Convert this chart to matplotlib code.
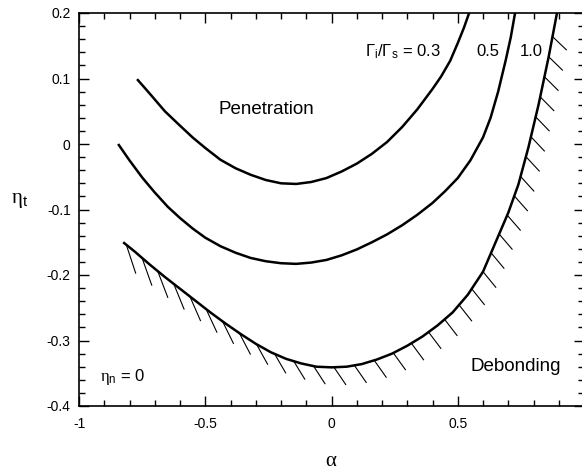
import numpy as np
import matplotlib
matplotlib.use('Agg')
import matplotlib.pyplot as plt
from matplotlib.ticker import MultipleLocator, FixedLocator

plt.rcParams['font.family'] = ['Liberation Sans', 'DejaVu Sans']
plt.rcParams['axes.unicode_minus'] = False
plt.rcParams['mathtext.fontset'] = 'custom'
plt.rcParams['mathtext.rm'] = 'Liberation Serif'
plt.rcParams['mathtext.sf'] = 'Liberation Sans'
plt.rcParams['mathtext.it'] = 'Liberation Sans:italic'

# curves: alpha vs eta_t, one per Gamma_i/Gamma_s
alpha_03 = [-0.770, -0.72, -0.66, -0.60, -0.55, -0.50, -0.44, -0.38, -0.32, -0.26, -0.20, -0.14,
            -0.08, -0.02, 0.04, 0.10, 0.16, 0.22, 0.28, 0.34, 0.40, 0.434, 0.47, 0.50, 0.525, 0.545]
eta_03 = [0.099, 0.077, 0.050, 0.028, 0.010, -0.006, -0.024, -0.037, -0.047, -0.055, -0.060, -0.061,
          -0.058, -0.052, -0.042, -0.030, -0.015, 0.003, 0.026, 0.053, 0.084, 0.103, 0.127, 0.154, 0.178, 0.200]

alpha_05 = [-0.845, -0.80, -0.75, -0.70, -0.648, -0.60, -0.55, -0.50, -0.44, -0.38, -0.32, -0.26, -0.20,
            -0.14, -0.08, -0.02, 0.04, 0.10, 0.16, 0.22, 0.28, 0.34, 0.40, 0.45, 0.50, 0.55, 0.60, 0.63,
            0.66, 0.69, 0.71, 0.727]
eta_05 = [0.000, -0.025, -0.051, -0.074, -0.096, -0.113, -0.129, -0.143, -0.156, -0.166, -0.174, -0.179, -0.182,
          -0.183, -0.181, -0.177, -0.170, -0.161, -0.150, -0.138, -0.124, -0.108, -0.090, -0.072, -0.052, -0.025,
          0.010, 0.040, 0.080, 0.128, 0.163, 0.200]

alpha_10 = [-0.825, -0.78, -0.72, -0.66, -0.60, -0.54, -0.48, -0.42, -0.36, -0.30, -0.24, -0.18, -0.12,
            -0.06, 0.00, 0.06, 0.12, 0.18, 0.24, 0.30, 0.36, 0.42, 0.48, 0.54, 0.60, 0.65, 0.70, 0.74, 0.78,
            0.82, 0.86, 0.893]
eta_10 = [-0.150, -0.164, -0.184, -0.203, -0.221, -0.239, -0.257, -0.274, -0.290, -0.305, -0.318, -0.328, -0.335,
          -0.340, -0.341, -0.340, -0.336, -0.329, -0.320, -0.308, -0.294, -0.277, -0.257, -0.230, -0.195, -0.150,
          -0.105, -0.062, -0.005, 0.060, 0.133, 0.200]

ratio_labels = ['$\\mathsf{\\Gamma_i/\\Gamma_s}$ = 0.3', '0.5', '1.0']
x_ticks = [-1, -0.5, 0, 0.5, 1]
x_ticklabels = ['-1', '-0.5', '0', '0.5', '']
y_ticks = [-0.4, -0.3, -0.2, -0.1, 0, 0.1, 0.2]
y_ticklabels = ['-0.4', '-0.3', '-0.2', '-0.1', '0', '0.1', '0.2']

fig = plt.figure(figsize=(5.82, 4.70), dpi=100)
ax = fig.add_axes([79 / 582, 64 / 470, 505 / 582, 393 / 470])

for a, e in [(alpha_03, eta_03), (alpha_05, eta_05), (alpha_10, eta_10)]:
    ax.plot(a, e, color='black', lw=1.8, solid_capstyle='butt')

ax.set_xlim(-1, 1)
ax.set_ylim(-0.4, 0.2)

# hatching under the 1.0 curve, spaced along the line in screen pixels
pts = ax.transData.transform(np.column_stack([alpha_10, eta_10]))
s = np.concatenate([[0], np.cumsum(np.hypot(*np.diff(pts, axis=0).T))])
inv = ax.transData.inverted()
for d in np.arange(4, s[-1] - 6, 20.5):
    x = np.interp(d, s, pts[:, 0])
    y = np.interp(d, s, pts[:, 1])
    f = d / s[-1]
    ang = np.radians(np.interp(f, [0, 0.35, 1], [-72, -56, -43]))
    ln = np.interp(f, [0, 0.3, 1], [30, 21, 19])
    h = inv.transform([[x, y], [x + ln * np.cos(ang), y + ln * np.sin(ang)]])
    ax.plot(h[:, 0], h[:, 1], color='black', lw=0.8)

# ticks
ax.xaxis.set_major_locator(FixedLocator(x_ticks))
ax.xaxis.set_minor_locator(MultipleLocator(0.1))
ax.yaxis.set_major_locator(FixedLocator(y_ticks))
ax.yaxis.set_minor_locator(MultipleLocator(0.02))
ax.set_xticklabels(x_ticklabels)
ax.set_yticklabels(y_ticklabels)
ax.tick_params(which='both', direction='in', top=True, right=True, labelsize=10, width=1.0)
ax.tick_params(which='major', length=7)
ax.tick_params(which='minor', length=4)
ax.tick_params(axis='x', pad=8)
ax.tick_params(axis='y', pad=6)
for sp in ax.spines.values():
    sp.set_linewidth(1.2)

ax.set_xlabel('$\\mathrm{\\alpha}$', fontsize=15, labelpad=14)
ax.set_ylabel('$\\mathrm{\\eta}_\\mathsf{t}$', fontsize=15, rotation=0, labelpad=20)
ax.yaxis.set_label_coords(-0.117, 0.50)

ax.text(-0.257, 0.052, 'Penetration', fontsize=13.5, ha='center', va='center')
ax.text(0.728, -0.340, 'Debonding', fontsize=13.5, ha='center', va='center')
ax.text(-0.917, -0.355, '$\\mathrm{\\eta}_\\mathsf{n}$ = 0', fontsize=12, ha='left', va='center')
ax.text(0.133, 0.141, ratio_labels[0], fontsize=12, ha='left', va='center')
ax.text(0.621, 0.141, ratio_labels[1], fontsize=12, ha='center', va='center')
ax.text(0.793, 0.141, ratio_labels[2], fontsize=12, ha='center', va='center')

fig.savefig('out.png', dpi=100)
